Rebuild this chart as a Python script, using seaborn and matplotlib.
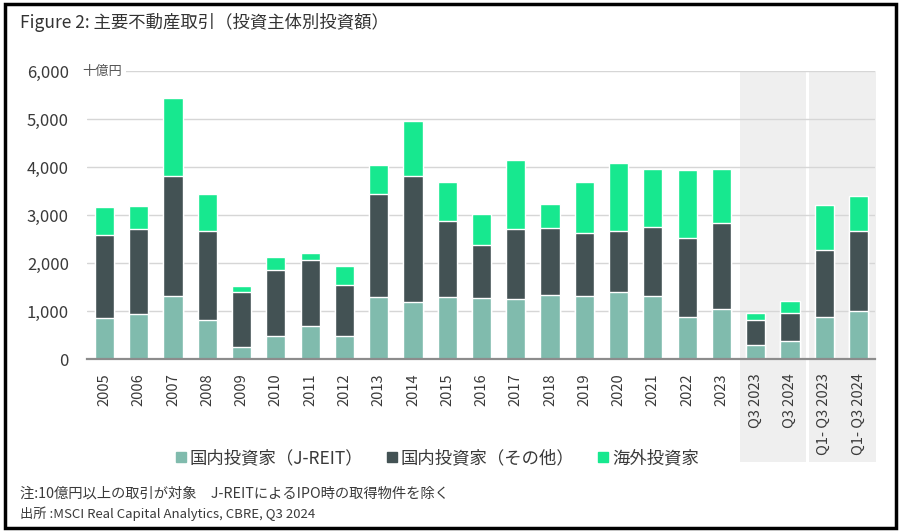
import numpy as np
import pandas as pd
import matplotlib
matplotlib.use('Agg')
import matplotlib.pyplot as plt
import matplotlib.transforms as mtransforms
from matplotlib.patches import Rectangle
from matplotlib.lines import Line2D
import seaborn as sns

# --- data (十億円) ---
periods = ['2005', '2006', '2007', '2008', '2009', '2010', '2011', '2012', '2013', '2014',
           '2015', '2016', '2017', '2018', '2019', '2020', '2021', '2022', '2023',
           'Q3 2023', 'Q3 2024', 'Q1- Q3 2023', 'Q1- Q3 2024']
jreit = [854, 951, 1319, 819, 250, 486, 694, 486, 1299, 1194,
         1306, 1271, 1257, 1347, 1319, 1403, 1319, 882, 1042,
         299, 382, 882, 1014]
domestic_other = [1743, 1757, 2487, 1848, 1153, 1375, 1369, 1070, 2138, 2619,
                  1576, 1111, 1451, 1389, 1306, 1257, 1431, 1639, 1805,
                  527, 576, 1396, 1646]
foreign = [563, 486, 1631, 764, 125, 278, 159, 395, 598, 1152,
           812, 646, 1445, 493, 1063, 1423, 1201, 1410, 1111,
           139, 257, 923, 743]
series_names = ['国内投資家（J-REIT）', '国内投資家（その他）', '海外投資家']
colors = ['#80BBAD', '#435254', '#17E88F']

df = pd.DataFrame({'period': periods, 'jreit': jreit,
                   'other': domestic_other, 'foreign': foreign})
df['lvl1'] = df['jreit']
df['lvl2'] = df['jreit'] + df['other']
df['lvl3'] = df['lvl2'] + df['foreign']

sns.set_theme(style='white')
plt.rcParams['font.family'] = ['Noto Sans CJK JP', 'DejaVu Sans']

fig = plt.figure(figsize=(9, 5.32), dpi=100)
ax = fig.add_axes([87 / 900, 1 - 359.3 / 532, 788 / 900, 288.3 / 532])

# shaded period blocks (extend below the axis into the label area)
trans = mtransforms.blended_transform_factory(ax.transData, ax.transAxes)
for x0, w in [(18.54, 1.93), (20.56, 1.94)]:
    ax.add_patch(Rectangle((x0, -0.356), w, 1.356, transform=trans,
                           facecolor='#efefef', edgecolor='none',
                           clip_on=False, zorder=0))

# stacked bars: draw cumulative totals from back to front
for col, c in zip(['lvl3', 'lvl2', 'lvl1'], colors[::-1]):
    sns.barplot(data=df, x='period', y=col, color=c, width=0.56,
                saturation=1, ax=ax, zorder=3)

ax.set_ylim(0, 6000)
ax.set_xlim(-0.51, 22.48)
ax.set_yticks(range(0, 6001, 1000))
ax.set_yticklabels([f'{v:,}' for v in range(0, 6001, 1000)])
ax.yaxis.grid(True, color='#d6d6d6', linewidth=1)
ax.set_axisbelow(True)
ax.set_xlabel('')
ax.set_ylabel('')
ax.set_facecolor('none')
for s in ['left', 'top', 'right']:
    ax.spines[s].set_visible(False)
ax.spines['bottom'].set_color('#8c8c8c')
ax.spines['bottom'].set_linewidth(1.6)
ax.spines['bottom'].set_zorder(4)
ax.tick_params(axis='y', length=0, pad=13, labelsize=12, labelcolor='#3a3a3a')
ax.tick_params(axis='x', length=0, pad=10, labelsize=10.5, labelcolor='#3a3a3a')
plt.setp(ax.get_xticklabels(), rotation=90, va='top', ha='center')

# unit label on top gridline
fig.text(82 / 900, 1 - 71 / 532, '十億円', fontsize=9.5, color='#555555',
         ha='left', va='center',
         bbox=dict(facecolor='white', edgecolor='none', pad=3))

# title
fig.text(20 / 900, 1 - 22 / 532, 'Figure 2: 主要不動産取引（投資主体別投資額）',
         fontsize=12.5, color='#333333', ha='left', va='center')

# legend
handles = [Line2D([], [], marker='s', linestyle='none', markersize=7,
                  markerfacecolor=c, markeredgecolor=c) for c in colors]
fig.legend(handles, series_names, loc='center', bbox_to_anchor=(437 / 900, 1 - 458 / 532),
           ncol=3, frameon=False, fontsize=12.5, handlelength=0.7, handletextpad=0.15,
           columnspacing=1.3, labelcolor='#3a3a3a')

# notes
fig.text(20 / 900, 1 - 494 / 532, '注:10億円以上の取引が対象　J-REITによるIPO時の取得物件を除く',
         fontsize=10.3, color='#3a3a3a', ha='left', va='center')
fig.text(20 / 900, 1 - 514 / 532, '出所 :MSCI Real Capital Analytics, CBRE, Q3 2024',
         fontsize=9.5, color='#3a3a3a', ha='left', va='center')

# outer frame
fig.patches.append(Rectangle((0.005, 0.008), 0.99, 0.985, transform=fig.transFigure,
                             fill=False, edgecolor='black', linewidth=2.5))

fig.savefig('out.png', dpi=100)
